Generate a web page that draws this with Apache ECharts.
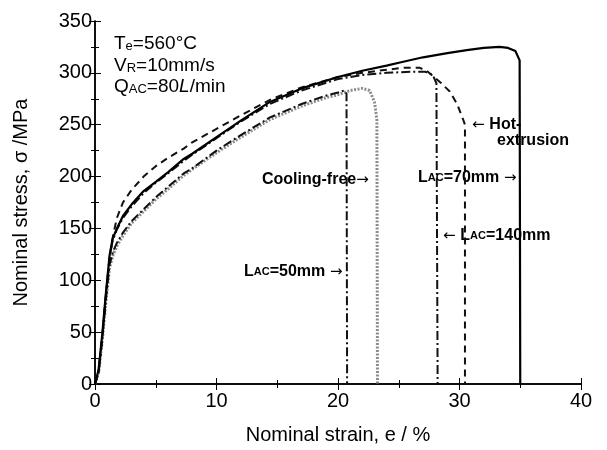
<!DOCTYPE html>
<html><head><meta charset="utf-8">
<script src="https://cdn.jsdelivr.net/npm/echarts@6/dist/echarts.min.js"></script>
<style>html,body{margin:0;padding:0;background:#fff}#c{width:607px;height:450px}</style>
</head><body><div id="c"></div>
<script>
// strain (%) , stress (MPa)
const hotExtrusion = [[0,0],[0.3,12],[0.6,45],[0.9,85],[1.2,122],[1.5,144],[1.8,160],[2.3,175],[3,187],[4,200],[5,210],[6,218],[7.3,227],[8,233],[10,246],[12,259],[14.4,274],[17,286],[20,296],[22,300],[24,303],[25.5,305],[26.7,305],[27.3,302],[27.8,297],[28.5,290],[29.2,282],[29.8,270],[30.3,255],[30.45,250],[30.45,0]];
const lac70 = [[0,0],[0.3,14],[0.6,48],[0.9,88],[1.2,124],[1.45,140],[1.8,150],[2.3,162],[3,173],[4,186],[5,195],[6,204],[7.3,217],[8,222],[10,238],[12,254],[14.4,272],[17,285],[20,296],[22,302],[24,307],[25.1,310],[27,315],[29,319],[30.6,322],[32,324],[33.3,325],[34,324],[34.6,321],[34.95,312],[35.0,0]];
const lac140 = [[0,0],[0.3,13],[0.6,46],[0.9,86],[1.2,122],[1.45,138],[1.8,149],[2.3,160],[3,171],[4,184],[5,194],[6,203],[7.3,215],[8,221],[10,237],[12,253],[14.4,270],[17,283],[20,294],[22,298],[24,300],[26,301],[27.2,301],[27.8,298],[28.1,290],[28.2,0]];
const lac50 = [[0,0],[0.3,12],[0.6,44],[0.9,82],[1.2,115],[1.5,128],[1.8,136],[2.3,146],[3,157],[3.7,165],[5,180],[6,190],[7.3,203],[8,208],[10,225],[12,240],[14.4,257],[17,270],[19,278],[20,281],[20.5,283],[20.7,280],[20.75,0]];
const coolingFree = [[0,0],[0.3,11],[0.6,42],[0.9,80],[1.2,112],[1.5,125],[1.8,133],[2.3,143],[3,155],[3.7,163],[5,178],[6,188],[7.3,201],[8,207],[10,223],[12,238],[14.4,255],[17,268],[19,276],[20,279],[21,283],[22,285],[22.6,283],[23.0,272],[23.2,255],[23.25,0]];
const xTicks = [0,10,20,30,40];
const yTicks = [0,50,100,150,200,250,300,350];

const chart = echarts.init(document.getElementById('c'));
const FONT = 'Liberation Sans, Arial, sans-serif';
const rich = {
  n: {fontSize: 19, fontFamily: FONT, color:'#000'},
  s: {fontSize: 13, fontFamily: FONT, color:'#000', verticalAlign:'bottom'},
  i: {fontSize: 19, fontFamily: FONT, fontStyle:'italic', color:'#000'},
  b: {fontSize: 16, fontFamily: FONT, fontWeight:'bold', color:'#000'},
  bs: {fontSize: 11, fontFamily: FONT, fontWeight:'bold', color:'#000'},
  a: {fontSize: 15, fontFamily: 'DejaVu Sans', color:'#000'}
};
function line(data, type, color, width){
  return {type:'line', data, showSymbol:false, symbol:'none', animation:false,
    lineStyle:{color, width, type}, xAxisIndex:0, yAxisIndex:0, z: 3};
}
const axisCommon = {
  axisLine:{show:true, lineStyle:{color:'#000', width:1.5}},
  axisTick:{show:true, inside:true, length:6, lineStyle:{color:'#000', width:1}},
  minorTick:{show:true, splitNumber:2, length:4, lineStyle:{color:'#000'}},
  splitLine:{show:false}
};
chart.setOption({
  backgroundColor:'#fff',
  animation:false,
  grid:{left:95, right:26, top:21, bottom:63},
  xAxis:[
    Object.assign({type:'value', min:0, max:40, interval:10, position:'bottom',
      name:'Nominal strain, e / %', nameLocation:'middle', nameGap:41,
      nameTextStyle:{fontSize:20, fontFamily:FONT, color:'#000'},
      axisLabel:{fontSize:20, fontFamily:FONT, color:'#000', margin:7,
        formatter: v => xTicks.includes(v) ? String(v) : ''}}, axisCommon),
    Object.assign({type:'value', min:0, max:40, interval:10, position:'top',
      axisLabel:{show:false}}, axisCommon)
  ],
  yAxis:[
    Object.assign({type:'value', min:0, max:350, interval:50, position:'left',
      name:'Nominal stress, σ /MPa', nameLocation:'middle', nameGap:64,
      nameTextStyle:{fontSize:20, fontFamily:FONT, color:'#000'},
      axisLabel:{fontSize:20, fontFamily:FONT, color:'#000', margin:3,
        formatter: v => yTicks.includes(v) ? String(v) : ''}}, axisCommon),
    Object.assign({type:'value', min:0, max:350, interval:50, position:'right',
      axisLabel:{show:false}}, axisCommon)
  ],
  series:[
    line(coolingFree, [2,1.5], '#8c8c8c', 3),
    line(lac50, [9,3,2,3], '#111', 2),
    line(lac140, [9,3,2,3], '#111', 2),
    line(hotExtrusion, [7,5], '#111', 2),
    line(lac70, 'solid', '#000', 2.2)
  ],
  graphic:[
    {type:'text', left:114, top:34, style:{text:'{n|T}{s|e}{n|=560°C}', rich}},
    {type:'text', left:114, top:56, style:{text:'{n|V}{s|R}{n|=10mm/s}', rich}},
    {type:'text', left:114, top:77, style:{text:'{n|Q}{s|AC}{n|=80}{i|L}{n|/min}', rich}},
    {type:'text', left:262, top:172, style:{text:'{b|Cooling-free}{a|→}', rich}},
    {type:'text', left:418, top:170, style:{text:'{b|L}{bs|AC}{b|=70mm}{a| →}', rich}},
    {type:'text', left:443, top:228, style:{text:'{a|← }{b|L}{bs|AC}{b|=140mm}', rich}},
    {type:'text', left:244, top:264, style:{text:'{b|L}{bs|AC}{b|=50mm}{a| →}', rich}},
    {type:'text', left:472, top:117, style:{text:'{a|← }{b|Hot-}', rich}},
    {type:'text', left:497, top:133, style:{text:'{b|extrusion}', rich}}
  ]
});
</script></body></html>
